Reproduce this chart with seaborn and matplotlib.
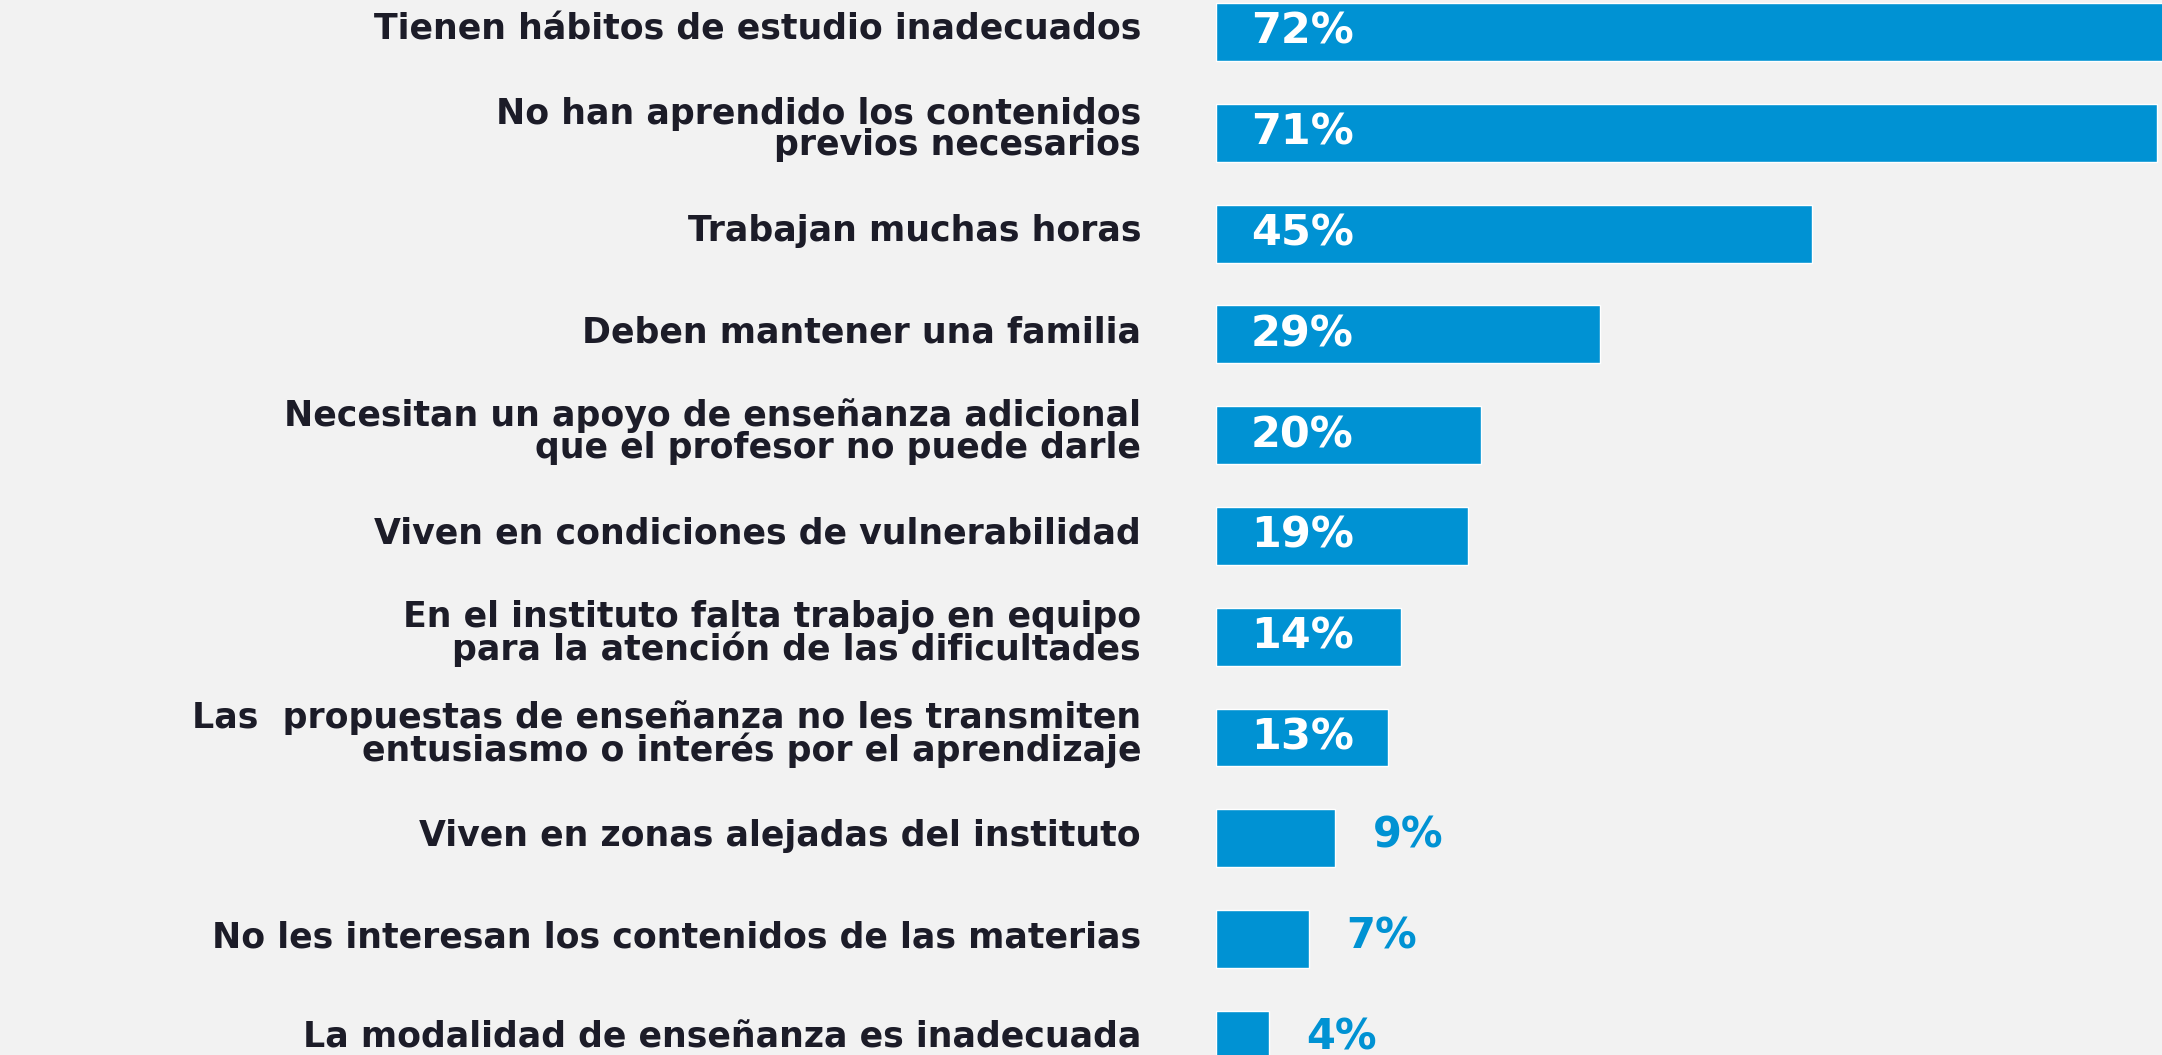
import matplotlib
matplotlib.use("Agg")
import matplotlib.pyplot as plt
import matplotlib.transforms as mtransforms
import seaborn as sns

# category labels (top to bottom) and their percentages
categories = [
    "Tienen hábitos de estudio inadecuados",
    "No han aprendido los contenidos\nprevios necesarios",
    "Trabajan muchas horas",
    "Deben mantener una familia",
    "Necesitan un apoyo de enseñanza adicional\nque el profesor no puede darle",
    "Viven en condiciones de vulnerabilidad",
    "En el instituto falta trabajo en equipo\npara la atención de las dificultades",
    "Las  propuestas de enseñanza no les transmiten\nentusiasmo o interés por el aprendizaje",
    "Viven en zonas alejadas del instituto",
    "No les interesan los contenidos de las materias",
    "La modalidad de enseñanza es inadecuada",
]
values = [72, 71, 45, 29, 20, 19, 14, 13, 9, 7, 4]

BLUE = "#0092d3"
BG = "#f2f2f2"

sns.set_theme(style="white")
plt.rcParams["font.family"] = ["DejaVu Sans"]

fig = plt.figure(figsize=(21.62, 10.55), dpi=100, facecolor=BG)
ax = fig.add_axes([1216 / 2162, 0, 1 - 1216 / 2162, 1])
ax.set_facecolor(BG)

sns.barplot(x=values, y=categories, orient="h", color=BLUE, saturation=1,
            width=0.575, ax=ax)

ax.set_xlim(0, 71.4)
ax.set_ylim(10.15, -0.317)
for s in ax.spines.values():
    s.set_visible(False)
ax.set_xticks([])
ax.set_xlabel("")
ax.set_ylabel("")
ax.tick_params(axis="y", length=0, pad=54, labelsize=25, labelcolor="#1c1c28")
# nudge labels up a little, like the original
shift = mtransforms.ScaledTranslation(0, 4 / 72, fig.dpi_scale_trans)
for lbl in ax.get_yticklabels():
    lbl.set_fontweight("bold")
    lbl.set_linespacing(0.9)
    lbl.set_transform(lbl.get_transform() + shift)

# percentage labels: inside the bar when there is room, outside otherwise
for i, v in enumerate(values):
    if v >= 10:
        ax.annotate(f"{v}%", xy=(0, i), xytext=(25, 0), textcoords="offset points",
                    ha="left", va="center", color="white", fontsize=31,
                    fontweight="bold")
    else:
        ax.annotate(f"{v}%", xy=(v, i), xytext=(27, 2), textcoords="offset points",
                    ha="left", va="center", color=BLUE, fontsize=30,
                    fontweight="bold")

fig.savefig("out.png", dpi=100, facecolor=BG)
